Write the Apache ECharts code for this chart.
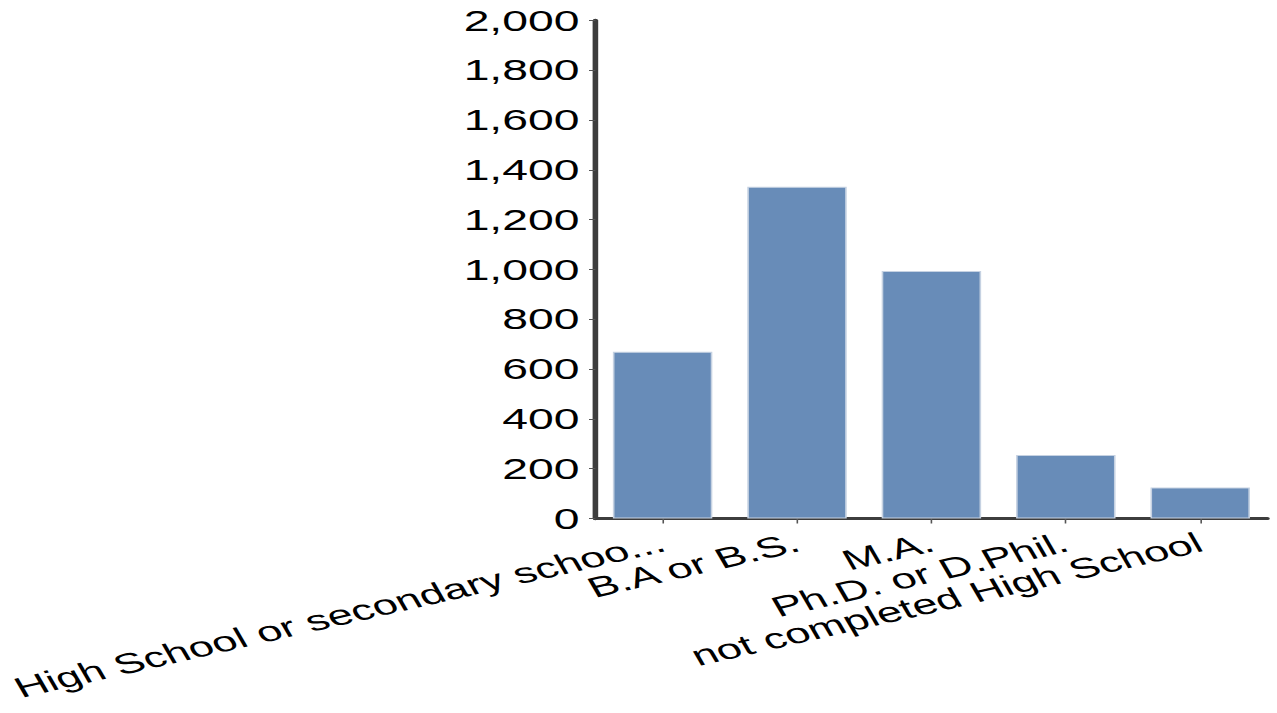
<!DOCTYPE html>
<html>
<head>
<meta charset="utf-8">
<script src="https://cdn.jsdelivr.net/npm/echarts@6/dist/echarts.min.js"></script>
<style>
  html, body { margin: 0; padding: 0; background: #ffffff; overflow: hidden; width: 1277px; height: 713px; }
  #wrap { width: 1277px; height: 713px; overflow: hidden; }
  #chart { width: 800px; height: 713px; transform: scaleX(1.59625); transform-origin: 0 0; }
</style>
</head>
<body>
<div id="wrap"><div id="chart"></div></div>
<script>
// Data
const categories = [
  "High School or secondary schoo...",
  "B.A or B.S.",
  "M.A.",
  "Ph.D. or D.Phil.",
  "not completed High School"
];
const values = [670, 1332, 994, 255, 124];
const yMin = 0;
const yMax = 2000;
const yInterval = 200;

const chart = echarts.init(document.getElementById('chart'), null, { renderer: 'svg' });
const fontFamily = '"Liberation Sans", Arial, Helvetica, sans-serif';

chart.setOption({
  animation: false,
  backgroundColor: '#ffffff',
  grid: { left: 373, right: 6, top: 20.5, bottom: 194.5, containLabel: false, outerBoundsMode: 'none' },
  xAxis: {
    type: 'category',
    data: categories,
    axisLine: { show: true, lineStyle: { color: '#3d3d3d', width: 3 } },
    axisTick: { show: true, alignWithLabel: true, length: 5, lineStyle: { color: '#555555', width: 1 } },
    axisLabel: {
      rotate: 20,
      margin: 23,
      interval: 0,
      color: '#000000',
      fontSize: 28.3,
      fontFamily: fontFamily
    },
    splitLine: { show: false }
  },
  yAxis: {
    type: 'value',
    min: yMin,
    max: yMax,
    interval: yInterval,
    axisLine: { show: true, lineStyle: { color: '#3d3d3d', width: 3.5 } },
    axisTick: { show: true, length: 4, lineStyle: { color: '#555555', width: 1 } },
    axisLabel: {
      margin: 10,
      color: '#000000',
      fontSize: 29,
      fontFamily: fontFamily,
      formatter: function (v) { return v.toLocaleString('en-US'); }
    },
    splitLine: { show: false }
  },
  series: [{
    type: 'bar',
    data: values,
    barCategoryGap: '26%',
    itemStyle: { color: '#688cb8', borderColor: '#c6d2e2', borderWidth: 1 }
  }]
});
</script>
</body>
</html>
